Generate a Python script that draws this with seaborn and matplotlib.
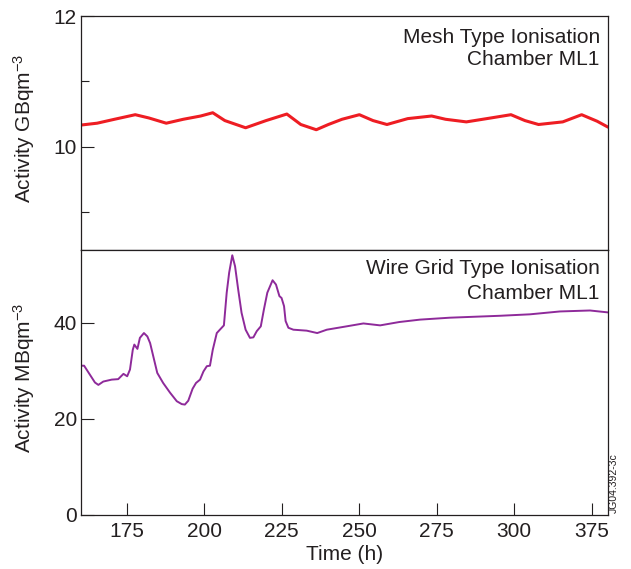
import matplotlib
matplotlib.use("Agg")
import matplotlib.pyplot as plt
import seaborn as sns
import pandas as pd

# ---- data ----
mesh_time = [160.0, 165.5, 171.1, 177.8, 182.2, 187.8, 193.3, 198.9, 202.8, 206.7,
             213.4, 220.0, 226.7, 231.2, 236.2, 240.1, 244.5, 250.1, 254.5, 259.0,
             265.7, 273.4, 277.9, 284.6, 291.2, 299.0, 303.5, 307.9, 315.7, 321.8,
             326.8, 330.3]
mesh_activity = [10.33, 10.36, 10.42, 10.49, 10.44, 10.36, 10.42, 10.47, 10.52, 10.40,
                 10.29, 10.40, 10.50, 10.34, 10.26, 10.34, 10.42, 10.49, 10.40, 10.34,
                 10.43, 10.47, 10.42, 10.38, 10.43, 10.49, 10.40, 10.34, 10.38, 10.49,
                 10.39, 10.30]

wire_time = [160.0, 161.3, 163.2, 164.8, 165.9, 167.5, 170.2, 172.3, 174.0, 175.2,
             176.1, 177.0, 177.5, 178.5, 179.3, 180.6, 181.7, 182.6, 183.6, 184.9,
             186.8, 189.0, 191.2, 192.8, 193.8, 194.9, 196.3, 197.4, 198.7, 199.8,
             200.9, 201.9, 202.8, 204.1, 205.1, 206.4, 207.3, 208.1, 209.1, 210.0,
             211.0, 212.1, 213.4, 214.8, 215.9, 217.0, 218.3, 219.3, 220.4, 222.1,
             223.2, 224.3, 225.0, 225.8, 226.3, 227.2, 228.8, 233.1, 236.5, 239.6,
             246.0, 251.4, 256.8, 263.0, 269.7, 279.3, 295.5, 305.1, 314.8, 324.5,
             330.3]
wire_activity = [31.1, 31.1, 29.2, 27.6, 27.1, 27.8, 28.2, 28.3, 29.4, 28.9,
                 30.3, 34.4, 35.5, 34.6, 36.9, 37.9, 37.2, 35.8, 33.1, 29.6,
                 27.5, 25.5, 23.7, 23.1, 23.0, 23.8, 26.3, 27.5, 28.2, 29.9,
                 31.0, 31.1, 34.4, 37.9, 38.6, 39.5, 46.3, 50.5, 54.1, 51.8,
                 47.0, 42.1, 38.6, 36.9, 37.0, 38.3, 39.3, 42.8, 46.3, 48.9,
                 48.0, 45.6, 45.2, 43.5, 40.4, 39.0, 38.6, 38.4, 37.9, 38.6,
                 39.3, 39.9, 39.5, 40.2, 40.7, 41.1, 41.5, 41.8, 42.4, 42.6,
                 42.2]

x_tick_pos = [175, 200, 225, 250, 275, 300, 325]
x_tick_labels = ["175", "200", "225", "250", "275", "300", "375"]
top_yticks = [10, 12]
top_yticks_minor = [9, 11]
bottom_yticks = [0, 20, 40]

mesh_df = pd.DataFrame({"time": mesh_time, "activity": mesh_activity})
wire_df = pd.DataFrame({"time": wire_time, "activity": wire_activity})

# ---- style ----
sns.set_style("ticks")
plt.rcParams["font.family"] = ["Liberation Sans", "DejaVu Sans"]
plt.rcParams["mathtext.default"] = "regular"
dark = "#231f20"
plt.rcParams.update({
    "axes.edgecolor": dark, "axes.linewidth": 0.9,
    "xtick.color": dark, "ytick.color": dark,
    "xtick.labelcolor": dark, "ytick.labelcolor": dark,
    "text.color": dark, "axes.labelcolor": dark,
})

fig = plt.figure(figsize=(6.31, 5.69), dpi=100)
left, width = 81 / 631, (608.3 - 81) / 631
ax_top = fig.add_axes([left, 1 - 250 / 569, width, 234 / 569])
ax_bot = fig.add_axes([left, 1 - 515 / 569, width, 265 / 569], sharex=ax_top)

sns.lineplot(data=mesh_df, x="time", y="activity", ax=ax_top, color="#ee1d23",
             linewidth=2.2, estimator=None, sort=False)
sns.lineplot(data=wire_df, x="time", y="activity", ax=ax_bot, color="#8e2a9a",
             linewidth=1.4, estimator=None, sort=False)

fs = 15
for ax in (ax_top, ax_bot):
    for s in ax.spines.values():
        s.set_visible(True)
        s.set_color(dark)
        s.set_linewidth(0.9)
    ax.tick_params(direction="in", length=9, width=0.8, labelsize=fs, pad=3)
    ax.tick_params(which="minor", direction="in", length=6, width=0.8)
    ax.tick_params(axis="y", right=False)

ax_top.set_xlim(160.3, 330.4)
ax_top.set_ylim(8.42, 12)
ax_top.set_yticks(top_yticks)
ax_top.set_yticks(top_yticks_minor, minor=True)
ax_top.tick_params(axis="x", which="both", bottom=False, labelbottom=False)
ax_top.set_xlabel("")
ax_top.set_ylabel("Activity GBqm$^{-3}$", fontsize=fs)
ax_top.yaxis.set_label_coords(-0.083, 0.52)

ax_bot.set_ylim(0, 55.2)
ax_bot.set_yticks(bottom_yticks)
ax_bot.set_xticks(x_tick_pos)
ax_bot.set_xticklabels(x_tick_labels)
ax_bot.tick_params(axis="x", pad=5)
ax_bot.set_xlabel("Time (h)", fontsize=fs, labelpad=3)
ax_bot.set_ylabel("Activity MBqm$^{-3}$", fontsize=fs)
ax_bot.yaxis.set_label_coords(-0.083, 0.517)

ax_top.text(0.984, 0.885, "Mesh Type Ionisation", transform=ax_top.transAxes,
            ha="right", va="baseline", fontsize=fs)
ax_top.text(0.984, 0.791, "Chamber ML1", transform=ax_top.transAxes,
            ha="right", va="baseline", fontsize=fs)
ax_bot.text(0.984, 0.909, "Wire Grid Type Ionisation", transform=ax_bot.transAxes,
            ha="right", va="baseline", fontsize=fs)
ax_bot.text(0.984, 0.815, "Chamber ML1", transform=ax_bot.transAxes,
            ha="right", va="baseline", fontsize=fs)

fig.text(614 / 631, (569 - 513) / 569, "JG04.392-3c", rotation=90,
         ha="center", va="bottom", fontsize=7.5)

fig.savefig("out.png", dpi=100)
